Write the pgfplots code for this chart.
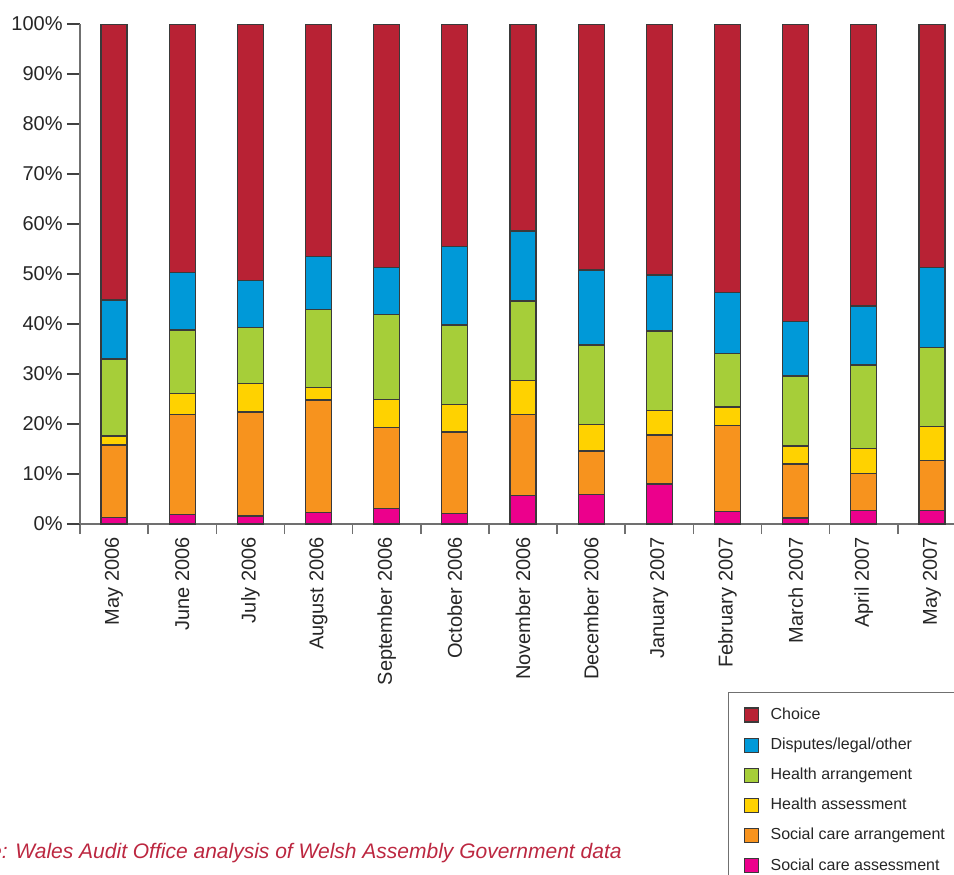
\documentclass[border=0pt]{standalone}
\usepackage{fontspec}
\setmainfont{Liberation Sans}
\usepackage{pgfplots}
\pgfplotsset{compat=1.18}
\definecolor{cChoice}{HTML}{B82234}
\definecolor{cDisp}{HTML}{0099D8}
\definecolor{cHArr}{HTML}{A6CE39}
\definecolor{cHAss}{HTML}{FFD200}
\definecolor{cSArr}{HTML}{F7931E}
\definecolor{cSAss}{HTML}{EC008C}
\definecolor{bargray}{HTML}{3A3A3A}
\definecolor{axisgray}{HTML}{707070}
\definecolor{srcred}{HTML}{BC2740}
\begin{document}
\begin{tikzpicture}
\begin{axis}[
  at={(0,0)}, anchor=south west,
  scale only axis, width=443pt, height=250pt,
  ybar stacked, bar width=13pt,
  xmin=-0.5, xmax=12.5, ymin=0, ymax=100,
  axis x line*=bottom, axis y line*=left,
  axis line style={draw=axisgray, line width=0.8pt},
  tick align=outside,
  major tick length=6.5pt,
  minor tick length=5pt,
  xtick={0,...,12},
  xticklabels={May 2006, June 2006, July 2006, August 2006, September 2006, October 2006, November 2006, December 2006, January 2007, February 2007, March 2007, April 2007, May 2007},
  major x tick style={draw=none},
  minor xtick={-0.5,0.5,...,12.5},
  minor x tick style={draw=axisgray, line width=0.8pt},
  xticklabel style={rotate=90, anchor=east, inner sep=0pt, font=\fontsize{10}{12}\selectfont, text=black!85},
  ytick={0,10,...,100},
  yticklabels={0\%,10\%,20\%,30\%,40\%,50\%,60\%,70\%,80\%,90\%,100\%},
  y tick style={draw=black!75, line width=0.9pt},
  yticklabel style={font=\fontsize{10}{12}\selectfont, text=black!85, inner sep=2pt},
  reverse legend,
  legend cell align=left,
  legend image code/.code={\path[draw=none, fill=none] (0pt,0pt) -- (13pt,0pt); \draw[#1, draw=bargray, line width=0.6pt] (2pt,-3.5pt) rectangle (9pt,3.5pt);},
  legend style={at={(0.7314,-0.336)}, anchor=north west, draw=axisgray, line width=0.6pt,
    font=\fontsize{8}{9.6}\selectfont, row sep=3.8pt, inner xsep=6pt, inner ysep=5.5pt,
    text=black!85},
]
\addplot[fill=cSAss, draw=bargray, line width=0.6pt] coordinates {(0,1.3) (1,1.9) (2,1.6) (3,2.3) (4,3.1) (5,2.1) (6,5.7) (7,5.9) (8,8.0) (9,2.5) (10,1.2) (11,2.7) (12,2.7)};
\addplot[fill=cSArr, draw=bargray, line width=0.6pt] coordinates {(0,14.5) (1,20.0) (2,20.8) (3,22.5) (4,16.2) (5,16.3) (6,16.2) (7,8.7) (8,9.8) (9,17.2) (10,10.8) (11,7.4) (12,10.0)};
\addplot[fill=cHAss, draw=bargray, line width=0.6pt] coordinates {(0,1.8) (1,4.2) (2,5.7) (3,2.5) (4,5.6) (5,5.5) (6,6.8) (7,5.3) (8,4.9) (9,3.7) (10,3.6) (11,5.0) (12,6.8)};
\addplot[fill=cHArr, draw=bargray, line width=0.6pt] coordinates {(0,15.4) (1,12.7) (2,11.2) (3,15.6) (4,17.0) (5,15.9) (6,15.9) (7,15.9) (8,15.9) (9,10.7) (10,14.0) (11,16.7) (12,15.8)};
\addplot[fill=cDisp, draw=bargray, line width=0.6pt] coordinates {(0,11.8) (1,11.5) (2,9.4) (3,10.6) (4,9.4) (5,15.7) (6,14.0) (7,15.0) (8,11.2) (9,12.2) (10,10.9) (11,11.8) (12,16.0)};
\addplot[fill=cChoice, draw=bargray, line width=0.6pt] coordinates {(0,55.2) (1,49.7) (2,51.3) (3,46.5) (4,48.7) (5,44.5) (6,41.4) (7,49.2) (8,50.2) (9,53.7) (10,59.5) (11,56.4) (12,48.7)};
\legend{Social care assessment, Social care arrangement, Health assessment, Health arrangement, Disputes/legal/other, Choice}
\end{axis}
\node[anchor=base east, inner sep=0pt, text=srcred, font=\fontsize{10.5}{12}\selectfont\itshape] at (271pt,-167pt) {Source: Wales Audit Office analysis of Welsh Assembly Government data};
\pgfresetboundingbox
\path[use as bounding box] (-40pt,-175pt) rectangle (437pt,262pt);
\end{tikzpicture}
\end{document}
